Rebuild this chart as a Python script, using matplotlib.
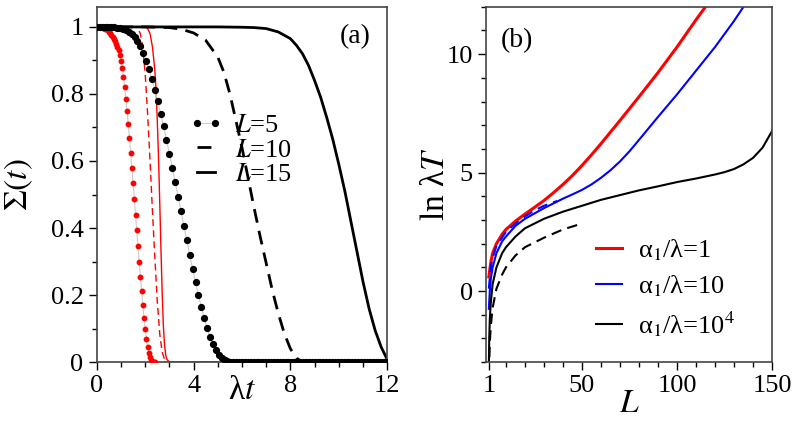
import numpy as np
import matplotlib
matplotlib.use('Agg')
import matplotlib.pyplot as plt
from matplotlib.ticker import MultipleLocator, FixedLocator

plt.rcParams['font.family'] = ['Liberation Serif', 'DejaVu Serif']
plt.rcParams['mathtext.fontset'] = 'stix'

# ---------- panel (a): Sigma(t) vs lambda t ----------
# red dots, step 0.05
t_red_dots = np.arange(49) * 0.05
s_red_dots = [1.000, 1.000, 1.000, 1.000, 0.999, 0.998, 0.997, 0.995, 0.993, 0.990,
              0.986, 0.982, 0.977, 0.971, 0.965, 0.958, 0.950, 0.941, 0.930, 0.915,
              0.898, 0.876, 0.850, 0.820, 0.786, 0.749, 0.710, 0.668, 0.625, 0.580,
              0.534, 0.487, 0.440, 0.393, 0.346, 0.300, 0.255, 0.212, 0.171, 0.133,
              0.099, 0.069, 0.045, 0.027, 0.014, 0.006, 0.002, 0.001, 0.000]

t_red_dash = [0, 1.6, 1.7, 1.8, 1.9, 2.0, 2.1, 2.2, 2.3, 2.4, 2.5, 2.6, 2.7, 2.8, 2.9, 5.0]
s_red_dash = [1.0, 1.0, 0.995, 0.98, 0.94, 0.86, 0.74, 0.60, 0.45, 0.31, 0.18, 0.085, 0.03, 0.008, 0.0, 0.0]

t_red_solid = [0, 2.0, 2.1, 2.2, 2.3, 2.4, 2.45, 2.5, 2.55, 2.6, 2.65, 2.7, 2.75, 2.8, 2.85, 2.9, 3.0, 5.0]
s_red_solid = [1.0, 1.0, 0.995, 0.98, 0.94, 0.87, 0.81, 0.72, 0.61, 0.48, 0.34, 0.21, 0.11, 0.05, 0.02, 0.008, 0.0, 0.0]

# black dots, step 0.12
t_blk_dots = np.arange(101) * 0.12
s_blk_dots = [1.000, 1.000, 1.000, 1.000, 1.000, 0.999, 0.999, 0.998, 0.996, 0.994,
              0.991, 0.986, 0.979, 0.970, 0.958, 0.942, 0.922, 0.899, 0.873, 0.844,
              0.812, 0.778, 0.741, 0.703, 0.663, 0.622, 0.580, 0.537, 0.494, 0.450,
              0.406, 0.363, 0.320, 0.278, 0.238, 0.200, 0.164, 0.131, 0.101, 0.075,
              0.053, 0.035, 0.021, 0.011, 0.005, 0.002, 0.001] + [0.0] * 54

t_blk_dash = [0, 2.0, 3.0, 3.5, 4.0, 4.5, 5.0, 5.25, 5.5, 5.75, 6.0, 6.25, 6.5, 6.75,
              7.0, 7.25, 7.5, 7.75, 8.0, 8.25, 8.5]
s_blk_dash = [1.0, 1.0, 0.998, 0.993, 0.982, 0.96, 0.91, 0.865, 0.80, 0.72, 0.64, 0.55,
              0.46, 0.375, 0.295, 0.215, 0.145, 0.085, 0.04, 0.012, 0.0]

t_blk_solid = [0, 5.0, 6.0, 6.5, 7.0, 7.5, 8.0, 8.25, 8.5, 8.75, 9.0, 9.25, 9.5, 9.75,
               10.0, 10.25, 10.5, 10.75, 11.0, 11.25, 11.5, 11.75, 12.0]
s_blk_solid = [1.0, 1.0, 0.999, 0.998, 0.995, 0.985, 0.965, 0.945, 0.92, 0.885, 0.84,
               0.79, 0.73, 0.665, 0.59, 0.51, 0.42, 0.33, 0.24, 0.16, 0.095, 0.045, 0.008]

# ---------- panel (b): ln(lambda T) vs L ----------
L_red = [1, 2, 3, 5, 8, 10, 15, 20, 25, 30, 35, 40, 45, 50, 55, 60, 70, 80, 90, 100, 110, 115]
v_red = [0.6, 1.2, 1.6, 2.0, 2.4, 2.6, 2.95, 3.25, 3.53, 3.82, 4.15, 4.5, 4.88, 5.3,
         5.75, 6.22, 7.2, 8.2, 9.22, 10.3, 11.45, 12.0]

L_blue = [1, 1.5, 2, 3, 5, 8, 10, 15, 20, 30, 40, 45, 50, 55, 60, 65, 70, 75, 80, 90,
          100, 110, 120, 130, 135]
v_blue = [-0.75, 0.0, 0.5, 1.0, 1.6, 2.1, 2.3, 2.75, 3.05, 3.5, 3.9, 4.08, 4.27, 4.5,
          4.78, 5.1, 5.47, 5.9, 6.38, 7.35, 8.3, 9.3, 10.3, 11.4, 12.0]

L_blue_dash = [1, 2, 3, 5, 10, 15, 20, 25, 30, 35, 37]
v_blue_dash = [0.1, 1.0, 1.4, 1.9, 2.5, 2.85, 3.15, 3.4, 3.6, 3.75, 3.8]

L_blk = [1, 1.2, 1.5, 2, 3, 5, 8, 10, 15, 20, 30, 40, 50, 60, 70, 80, 90, 100, 110,
         120, 125, 130, 135, 140, 145, 150]
v_blk = [-3.2, -2.0, -1.2, -0.5, 0.3, 1.0, 1.6, 1.85, 2.3, 2.65, 3.05, 3.35, 3.6, 3.85,
         4.05, 4.25, 4.42, 4.6, 4.75, 4.92, 5.02, 5.15, 5.35, 5.62, 6.05, 6.75]

L_blk_dash = [1, 1.5, 2, 3, 5, 8, 10, 15, 20, 30, 40, 50]
v_blk_dash = [-3.5, -2.2, -1.5, -0.7, 0.1, 0.7, 1.0, 1.5, 1.85, 2.25, 2.6, 2.85]

fig = plt.figure(figsize=(8, 4.25), dpi=100)
ax1 = fig.add_axes([0.121, 0.148, 0.363, 0.836])
ax2 = fig.add_axes([0.6075, 0.148, 0.3575, 0.836])

ax1.plot(t_red_dots, s_red_dots, color='#cccccc', lw=0.8, marker='o', ms=3.2,
         mfc='red', mec='red', zorder=3)
ax1.plot(t_red_dash, s_red_dash, color='red', lw=1.0, ls=(0, (5, 3)))
ax1.plot(t_red_solid, s_red_solid, color='red', lw=1.0)
ax1.plot(t_blk_dots, s_blk_dots, color='#cccccc', lw=0.8, marker='o', ms=4.2,
         mfc='black', mec='black', zorder=3, label='$L$=5')
ax1.plot(t_blk_dash, s_blk_dash, color='black', lw=2.0, ls=(0, (5, 3)), label='$L$=10')
ax1.plot(t_blk_solid, s_blk_solid, color='black', lw=2.0, label='$L$=15')

ax1.set_xlim(0, 12)
ax1.set_ylim(0, 1.06)
ax1.set_xticks([0, 4, 8, 12])
ax1.set_yticks([0, 0.2, 0.4, 0.6, 0.8, 1.0])
ax1.set_yticklabels(['0', '0.2', '0.4', '0.6', '0.8', '1'])
ax1.xaxis.set_minor_locator(MultipleLocator(1))
ax1.yaxis.set_minor_locator(MultipleLocator(0.1))
ax1.set_xlabel('λ$t$', fontsize=24, labelpad=-16)
ax1.set_ylabel(r'$\Sigma(t)$', fontsize=24, labelpad=11)
ax1.text(0.89, 0.915, '(a)', transform=ax1.transAxes, fontsize=20, ha='center', va='center')
ax1.legend(loc='upper left', bbox_to_anchor=(0.28, 0.73), frameon=False, fontsize=19,
           handlelength=1.3, handletextpad=0.45, labelspacing=0.05, borderaxespad=0,
           numpoints=2)

ax2.plot(L_red, v_red, color='red', lw=2.2, label='α$_1$/λ=1')
ax2.plot(L_blue, v_blue, color='blue', lw=1.5, label='α$_1$/λ=10')
ax2.plot(L_blk, v_blk, color='black', lw=1.5, label='α$_1$/λ=10$^4$')
ax2.plot(L_blue_dash, v_blue_dash, color='blue', lw=1.5, ls=(0, (5, 3)))
ax2.plot(L_blk_dash, v_blk_dash, color='black', lw=1.5, ls=(0, (5, 3)))

ax2.set_xlim(-0.5, 150)
ax2.set_ylim(-3, 12)
ax2.set_xticks([1, 50, 100, 150])
ax2.set_yticks([0, 5, 10])
ax2.xaxis.set_minor_locator(FixedLocator([10, 20, 30, 40, 60, 70, 80, 90, 110, 120, 130, 140]))
ax2.yaxis.set_minor_locator(MultipleLocator(1))
ax2.set_xlabel('$L$', fontsize=24, labelpad=-6)
ax2.set_ylabel('ln λ$T$', fontsize=24, labelpad=-3)
ax2.text(0.108, 0.905, '(b)', transform=ax2.transAxes, fontsize=20, ha='center', va='center')
ax2.legend(loc='upper left', bbox_to_anchor=(0.346, 0.38), frameon=False, fontsize=19,
           handlelength=1.0, handletextpad=0.6, labelspacing=0.38, borderaxespad=0)

for ax in (ax1, ax2):
    ax.tick_params(which='major', direction='out', length=6, width=1, labelsize=19)
    ax.tick_params(which='minor', direction='out', length=3.5, width=1)
    for sp in ax.spines.values():
        sp.set_color('#444444')
        sp.set_linewidth(1.2)

fig.savefig('out.png', dpi=100)
